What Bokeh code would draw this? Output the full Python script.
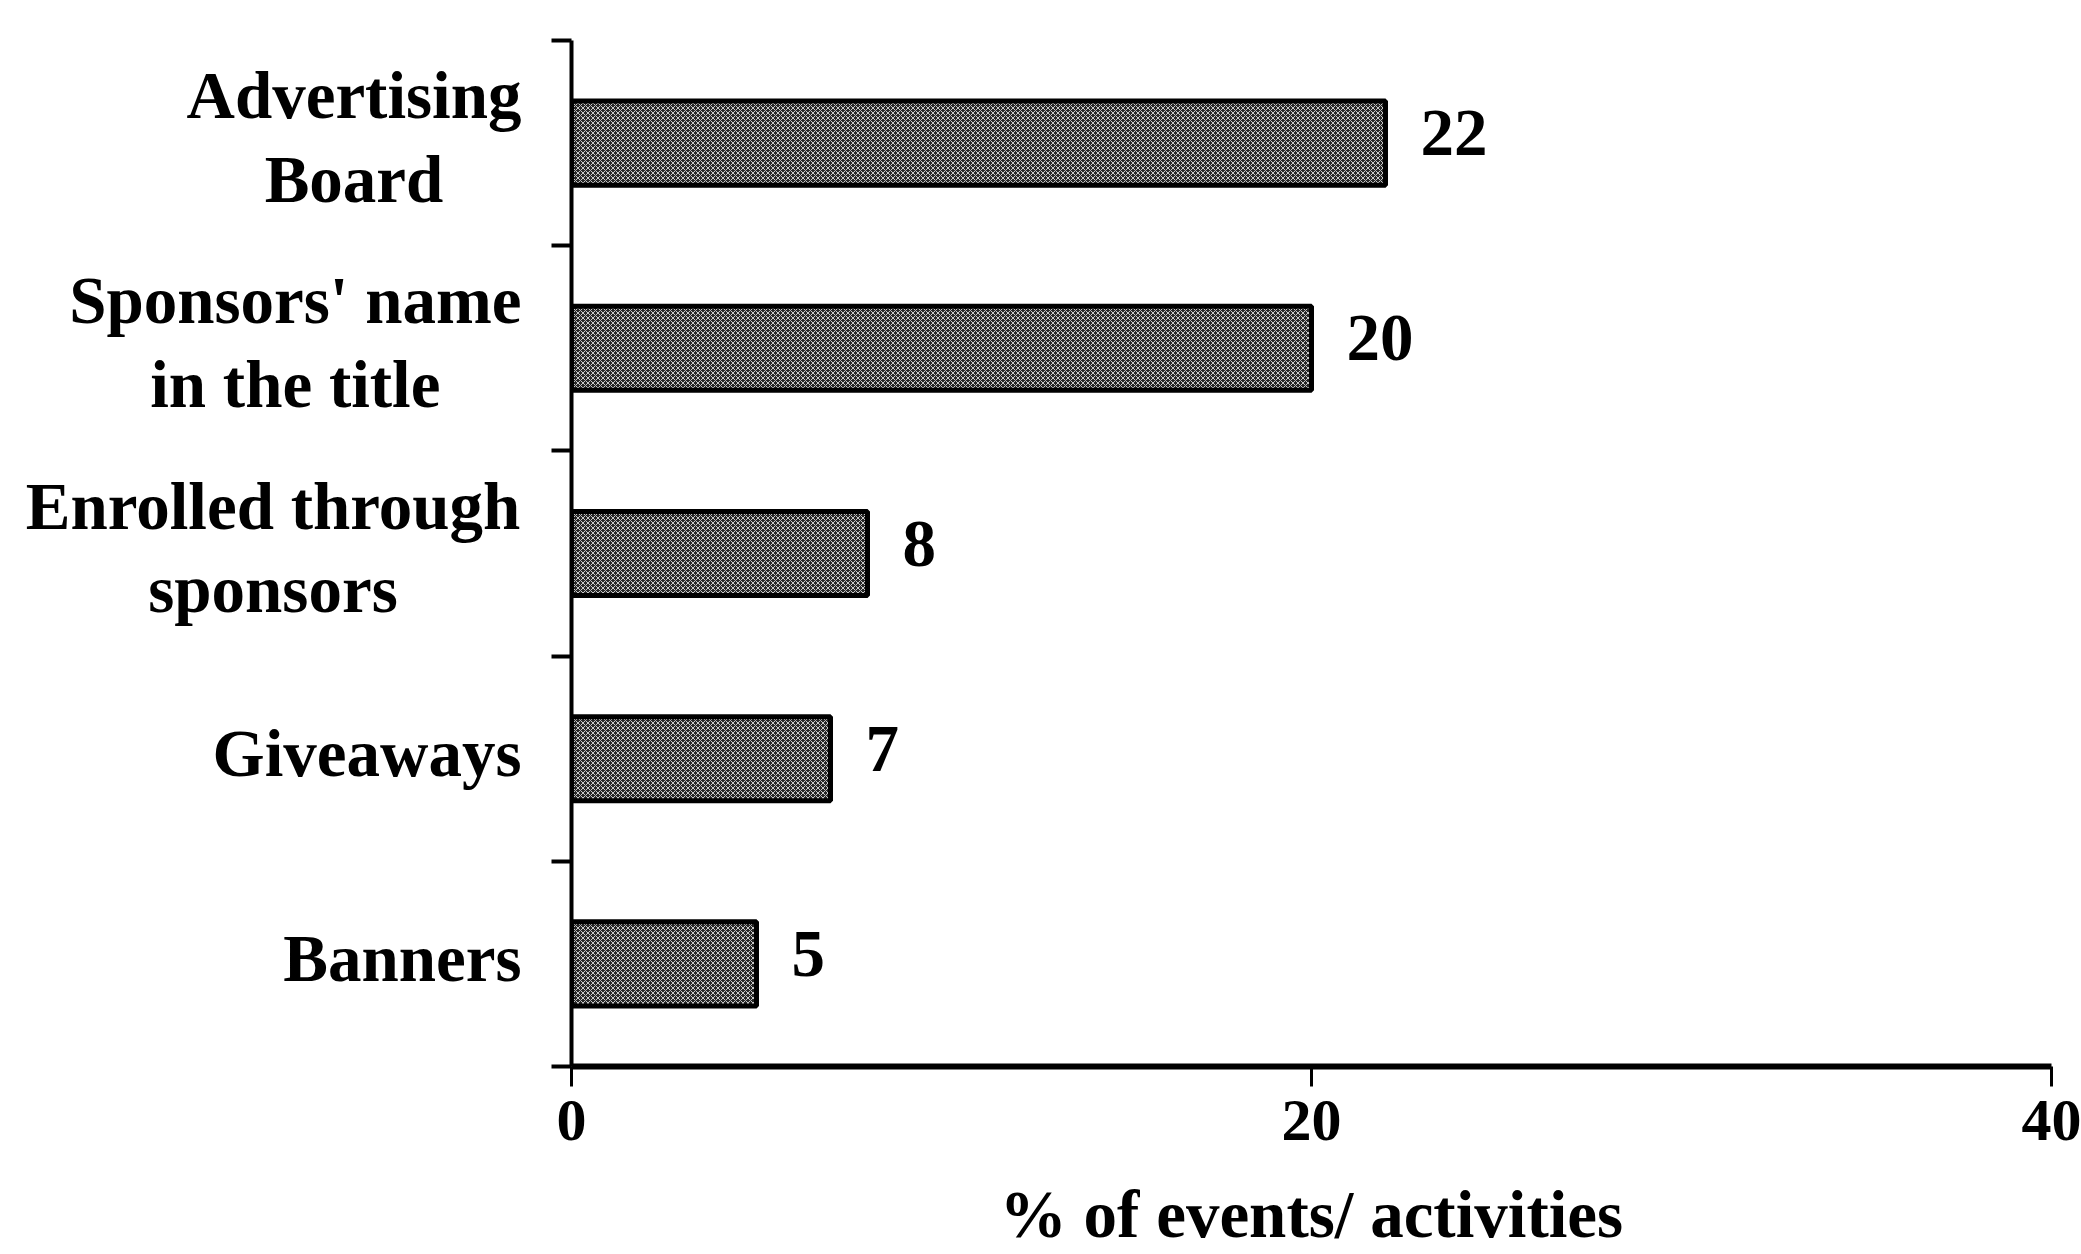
from bokeh.plotting import figure
from bokeh.layouts import row
from bokeh.models import FixedTicker, Range1d, ColumnDataSource
from bokeh.core.properties import value
from bokeh.embed import file_html
from bokeh.resources import INLINE

# Sponsorship exposure channels, listed top to bottom
categories = [
    "Advertising\nBoard",
    "Sponsors' name\nin the title",
    "Enrolled through\nsponsors",
    "Giveaways",
    "Banners",
]
percent = [22, 20, 8, 7, 5]
x_ticks = [0, 20, 40]

n = len(categories)
# top category sits in the highest slot
slot = [n - 0.5 - i for i in range(n)]

FONT = "Liberation Serif"
LABEL_PX = 67

# page geometry (pixels)
PAGE_W, PAGE_H = 2081, 1254
NAME_W = 545            # strip that holds the category names
TOP, BOTTOM = 40, 188   # borders above / below the plotting area
NAME_RIGHT = 521        # right edge of the name block inside the strip

# Advance widths of the bold serif face (per 1000 em) for the glyphs used in
# the category names, so multi-line names can be centred line by line while
# each block still ends flush next to the axis.
ADV = {
    " ": 250, "'": 278, "A": 722, "B": 667, "E": 667, "G": 778, "S": 556,
    "a": 500, "d": 556, "e": 444, "g": 500, "h": 556, "i": 278, "l": 278,
    "m": 833, "n": 556, "o": 500, "p": 556, "r": 444, "s": 389, "t": 333,
    "u": 556, "v": 500, "w": 722, "y": 500,
}


def text_width(s, px):
    return sum(ADV.get(ch, 500) for ch in s) * px / 1000.0


y_range = Range1d(0, n)

# ---- category-name strip -------------------------------------------------
name_x = [NAME_RIGHT - max(text_width(l, LABEL_PX) for l in c.split("\n")) / 2.0
          for c in categories]
names = figure(
    width=NAME_W, height=PAGE_H,
    x_range=Range1d(0, NAME_W), y_range=y_range,
    x_axis_location=None, y_axis_location=None,
    output_backend="svg", toolbar_location=None,
    min_border_left=0, min_border_right=0,
    min_border_top=TOP, min_border_bottom=BOTTOM,
)
names.outline_line_color = None
names.grid.visible = False
names.text(
    x=name_x, y=slot, text=categories, y_offset=-6,
    text_align="center", text_baseline="middle",
    text_font=value(FONT), text_font_style="bold",
    text_font_size=f"{LABEL_PX}px", text_color="black",
    text_line_height=1.13,
)

# ---- bar chart -------------------------------------------------------------
src = ColumnDataSource(dict(
    y=slot,
    right=percent,
    lbl=[str(v) for v in percent],
))

p = figure(
    width=PAGE_W - NAME_W, height=PAGE_H,
    x_range=Range1d(0, 40), y_range=y_range,
    output_backend="svg", toolbar_location=None,
    min_border_left=26, min_border_right=30,
    min_border_top=TOP, min_border_bottom=BOTTOM,
)
p.outline_line_color = None
p.grid.visible = False

p.hbar(
    y="y", left=0, right="right", height=0.41, source=src,
    fill_color="#262626", line_color="black", line_width=5,
    hatch_pattern="diagonal_cross", hatch_color="white",
    hatch_weight=1.0, hatch_scale=5, hatch_alpha=0.75,
)

p.text(
    x="right", y="y", text="lbl", source=src,
    x_offset=35, y_offset=-10, text_align="left", text_baseline="middle",
    text_font=value(FONT), text_font_style="bold",
    text_font_size=f"{LABEL_PX}px", text_color="black",
)

# x axis
xa = p.xaxis[0]
xa.ticker = FixedTicker(ticks=x_ticks)
xa.axis_label = "% of events/ activities"
xa.axis_label_text_font = FONT
xa.axis_label_text_font_style = "bold"
xa.axis_label_text_font_size = f"{LABEL_PX}px"
xa.axis_label_text_color = "black"
xa.axis_label_standoff = 34
xa.major_label_text_font = FONT
xa.major_label_text_font_style = "bold"
xa.major_label_text_font_size = "60px"
xa.major_label_text_color = "black"
xa.major_label_standoff = 14
xa.axis_line_width = 6
xa.axis_line_color = "black"
xa.major_tick_line_width = 3
xa.major_tick_line_color = "black"
xa.major_tick_out = 20
xa.major_tick_in = 0
xa.minor_tick_line_color = None

# y axis: tick marks only, at the slot boundaries
ya = p.yaxis[0]
ya.ticker = FixedTicker(ticks=[], minor_ticks=list(range(n + 1)))
ya.major_label_text_font_size = "0px"
ya.major_label_standoff = 0
ya.major_tick_line_color = None
ya.minor_tick_line_color = "black"
ya.minor_tick_line_width = 4
ya.minor_tick_out = 20
ya.minor_tick_in = 0
ya.axis_line_width = 4
ya.axis_line_color = "black"

layout = row(names, p, spacing=0)
open("out.html", "w").write(file_html(layout, INLINE))
